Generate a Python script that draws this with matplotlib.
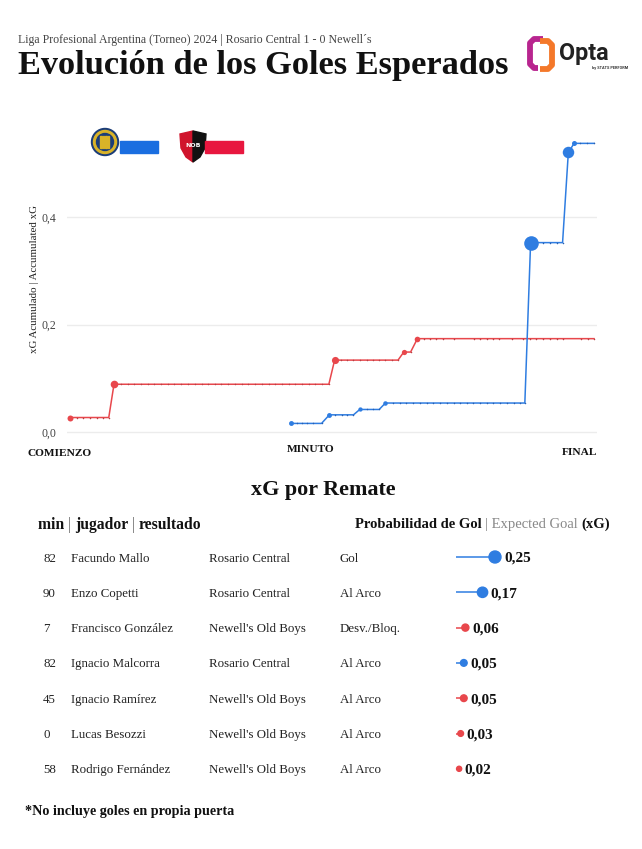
import numpy as np
import matplotlib
matplotlib.use("Agg")
import matplotlib.pyplot as plt
from matplotlib.patches import Rectangle, Circle, Polygon, PathPatch
from matplotlib.path import Path

W, H = 642, 849
SERIF = ['Liberation Serif', 'DejaVu Serif']

# ---------------- data ----------------
# accumulated xG levels (one per shot) and the event positions (progress 0-100) on each level
red_levels = [0.027, 0.089, 0.134, 0.149, 0.174]
red_events = [
    [0, 1.3, 2.5, 3.8, 5.2, 6.3, 7.4],
    [8.4, 9.7, 11.0, 12.2, 13.5, 14.8, 16.1, 17.4, 18.7, 19.9, 21.2, 22.5, 23.8, 25.1, 26.3, 27.6,
     28.9, 30.2, 31.5, 32.8, 34.0, 35.3, 36.6, 37.9, 39.2, 40.4, 41.7, 43.0, 44.3, 45.6, 46.8, 48.1, 49.4],
    [50.5, 51.8, 52.9, 54.0, 55.3, 56.6, 57.8, 59.0, 60.1, 61.4, 62.6],
    [63.7, 65.0],
    [66.3, 67.6, 68.7, 69.8, 71.1, 73.3, 77.1, 78.2, 79.5, 80.8, 81.8, 84.3, 86.5, 87.8, 89.0,
     90.3, 91.6, 92.9, 94.1, 97.6, 98.9, 100],
]
red_shot_xg = [0.03, 0.06, 0.05, 0.02, 0.025]

blue_levels = [0.016, 0.032, 0.042, 0.054, 0.353, 0.521, 0.538]
blue_events = [
    [42.2, 43.3, 44.2, 45.2, 46.4, 48.0],
    [49.5, 50.6, 51.9, 52.8, 54.1],
    [55.3, 56.6, 57.9, 59.0],
    [60.2, 61.7, 63.0, 64.2, 65.5, 66.8, 68.1, 69.3, 70.6, 71.9, 73.2, 74.4, 75.7, 77.0, 78.3,
     79.6, 80.8, 82.1, 83.4, 84.7, 85.9, 86.8],
    [87.9, 90.3, 91.6, 92.9, 94.0],
    [95.1],
    [96.2, 97.3, 98.6, 100],
]
blue_shot_xg = [0.016, 0.016, 0.01, 0.012, 0.30, 0.17, 0.017]

y_ticks = [0.0, 0.2, 0.4]
y_tick_labels = ["0,0", "0,2", "0,4"]

mins = ["82", "90", "7", "82", "45", "0", "58"]
players = ["Facundo Mallo", "Enzo Copetti", "Francisco González", "Ignacio Malcorra",
           "Ignacio Ramírez", "Lucas Besozzi", "Rodrigo Fernández"]
teams = ["Rosario Central", "Rosario Central", "Newell's Old Boys", "Rosario Central",
         "Newell's Old Boys", "Newell's Old Boys", "Newell's Old Boys"]
results = ["Gol", "Al Arco", "Desv./Bloq.", "Al Arco", "Al Arco", "Al Arco", "Al Arco"]
shot_xg = [0.25, 0.17, 0.06, 0.05, 0.05, 0.03, 0.02]

BLUE = "#2f7de1"
BLUE_DOT = "#2a5fb0"
RED = "#e8474c"
RED_DOT = "#b84044"
BLUE_BAR = "#1a6ee0"
RED_BAR = "#e8173f"
VA = "center_baseline"

# ---------------- figure ----------------
fig = plt.figure(figsize=(W / 100, H / 100), dpi=100)
fig.patch.set_facecolor("white")

# overlay axes in pixel coordinates
ov = fig.add_axes([0, 0, 1, 1])
ov.set_xlim(0, W)
ov.set_ylim(H, 0)
ov.axis("off")

fig.canvas.draw()
R = fig.canvas.get_renderer()


def fit(x, y, s, target_w, size0=12, **kw):
    t = ov.text(x, y, s, fontsize=size0, **kw)
    bb = t.get_window_extent(renderer=R)
    t.set_fontsize(size0 * target_w / bb.width)
    return t


def runs_fit(x, y, parts, target_w, size0=10, **common):
    total = 0
    for s, kw in parts:
        t = ov.text(0, 0, s, fontsize=size0, **common, **kw)
        total += t.get_window_extent(renderer=R).width
        t.remove()
    size = size0 * target_w / total
    for s, kw in parts:
        t = ov.text(x, y, s, fontsize=size, **common, **kw)
        x += t.get_window_extent(renderer=R).width
    return x


# header
fit(18, 38, "Liga Profesional Argentina (Torneo) 2024 | Rosario Central 1 - 0 Newell´s", 354,
    family=SERIF, color="#444444", va=VA, ha="left")
fit(18, 62, "Evolución de los Goles Esperados", 490, size0=22,
    family=SERIF, fontweight="bold", color="#111111", va=VA, ha="left")

# Opta logo
left_br = Path([(543, 39), (534, 39), (530, 43), (530, 64), (534, 68), (538, 68)],
               [Path.MOVETO, Path.LINETO, Path.LINETO, Path.LINETO, Path.LINETO, Path.LINETO])
right_br = Path([(540, 41), (548, 41), (552, 45), (552, 65), (548, 69), (540, 69)],
                [Path.MOVETO, Path.LINETO, Path.LINETO, Path.LINETO, Path.LINETO, Path.LINETO])
ov.add_patch(PathPatch(left_br, fill=False, lw=4.2, edgecolor="#b8258f", capstyle="butt", joinstyle="round"))
ov.add_patch(PathPatch(right_br, fill=False, lw=4.2, edgecolor="#f4782a", capstyle="butt", joinstyle="round"))
fit(559, 51, "Opta", 50, size0=18, family=["Roboto", "DejaVu Sans"], fontweight="bold",
    color="#222222", va=VA, ha="left")
ov.text(628, 67.5, "by STATS PERFORM", fontsize=2.8, family=["Roboto", "DejaVu Sans"],
        fontweight="bold", color="#333333", va=VA, ha="right")

# team badges + legend bars
ov.add_patch(Circle((105, 142), 13.5, color="#1b3d78"))
ov.add_patch(Circle((105, 142), 11.5, color="#d9b328"))
ov.add_patch(Circle((105, 142), 8.5, color="#1b3d78"))
for dx in (-4, -1.5, 1, 3.5):
    ov.add_patch(Rectangle((105 + dx - 0.8, 136), 1.6, 12, color="#d9b328"))
ov.add_patch(Rectangle((120, 141), 38, 11.5, color=BLUE_BAR))

ov.add_patch(Polygon([(180, 134), (193, 131), (193, 162), (186, 157), (181, 148)], closed=True,
                     color="#d0142c"))
ov.add_patch(Polygon([(193, 131), (206, 134), (205, 148), (200, 157), (193, 162)], closed=True,
                     color="#111111"))
ov.text(193, 145, "NOB", fontsize=4.5, family=["DejaVu Sans"], fontweight="bold",
        color="white", ha="center", va="center")
ov.add_patch(Rectangle((205, 141), 38, 11.5, color=RED_BAR))

# ---------------- chart ----------------
px_per_unit = 536.5  # pixels per xG unit
ylo, yhi = -0.01, 0.58
y_bot_px = 432 - ylo * px_per_unit
y_top_px = 432 - yhi * px_per_unit
ax = fig.add_axes([67 / W, 1 - y_bot_px / H, 530 / W, (y_bot_px - y_top_px) / H])
ax.set_xlim(-0.57, 100.57)
ax.set_ylim(ylo, yhi)
ax.patch.set_alpha(0)
for s in ax.spines.values():
    s.set_visible(False)
ax.set_xticks([])
ax.set_yticks(y_ticks)
ax.set_yticklabels(y_tick_labels, family=SERIF, fontsize=8.5, color="#444444")
for lab in ax.get_yticklabels():
    lab.set_verticalalignment("center_baseline")
ax.tick_params(axis="y", length=0, pad=8)
for yt in y_ticks:
    ax.axhline(yt, color="#ececec", lw=1.0, zorder=1)


def draw_team(levels, events, sxg, color, dotcolor):
    xs, ys = [], []
    for lvl, evs in zip(levels, events):
        for e in evs:
            xs.append(e)
            ys.append(lvl)
    ax.plot(xs, ys, color=color, lw=1.1, solid_joinstyle="round", zorder=3, clip_on=False)
    ax.plot(xs, ys, ls="none", marker="o", ms=1.1, color=dotcolor, mec="none", zorder=4, clip_on=False)
    for lvl, evs, g in zip(levels, events, sxg):
        r = 1 + np.sqrt(g) * 11.5
        ax.plot(evs[0], lvl, "o", ms=2 * r * 0.72, color=color, mec="none", zorder=5, clip_on=False)


draw_team(red_levels, red_events, red_shot_xg, RED, RED_DOT)
draw_team(blue_levels, blue_events, blue_shot_xg, BLUE, BLUE_DOT)

ov.text(35, 279, "xG Acumulado | Accumulated xG", rotation=90, family=SERIF, fontsize=7.8,
        color="#222222", ha="center", va="center")
ov.text(27, 452, "COMIENZO", family=SERIF, fontsize=8.2, fontweight="bold", color="#111111",
        ha="left", va=VA)
ov.text(287, 448, "MINUTO", family=SERIF, fontsize=8.2, fontweight="bold", color="#111111",
        ha="left", va=VA)
ov.text(597, 451, "FINAL", family=SERIF, fontsize=8.2, fontweight="bold", color="#111111",
        ha="right", va=VA)

# ---------------- table ----------------
fit(323 - 72, 487, "xG por Remate", 144, size0=13, family=SERIF, fontweight="bold",
    color="#111111", ha="left", va=VA)

hdr = dict(family=SERIF, va=VA, ha="left")
runs_fit(38, 523, [("min ", dict(fontweight="bold", color="#111111")),
                   ("| ", dict(color="#666666")),
                   ("jugador ", dict(fontweight="bold", color="#111111")),
                   ("| ", dict(color="#666666")),
                   ("resultado", dict(fontweight="bold", color="#111111"))], 164, **hdr)
runs_fit(355, 523, [("Probabilidad de Gol ", dict(fontweight="bold", color="#111111")),
                    ("| Expected Goal ", dict(color="#888888")),
                    ("(xG)", dict(fontweight="bold", color="#111111"))], 255, **hdr)

row_y0, row_dy = 557, 35.3
cell = dict(family=SERIF, fontsize=9.3, color="#222222", va=VA, ha="left")
for i in range(len(players)):
    y = row_y0 + i * row_dy
    col = BLUE if teams[i] == "Rosario Central" else RED
    ov.text(43, y, mins[i], **cell)
    ov.text(71, y, players[i], **cell)
    ov.text(209, y, teams[i], **cell)
    ov.text(340, y, results[i], **cell)
    x0 = 456
    xd = x0 + shot_xg[i] * 156
    r = 1.2 + np.sqrt(shot_xg[i]) * 9.6
    ov.plot([x0, xd], [y, y], color=col, lw=1.1, solid_capstyle="butt")
    ov.add_patch(Circle((xd, y), r, color=col, zorder=3))
    ov.text(xd + r + 3, y, f"{shot_xg[i]:.2f}".replace(".", ","), family=SERIF, fontsize=11,
            fontweight="bold", color="#111111", va=VA, ha="left")

fit(25, 810, "*No incluye goles en propia puerta", 209, size0=10, family=SERIF,
    fontweight="bold", color="#111111", va=VA, ha="left")

fig.savefig("out.png", dpi=100, facecolor="white")
